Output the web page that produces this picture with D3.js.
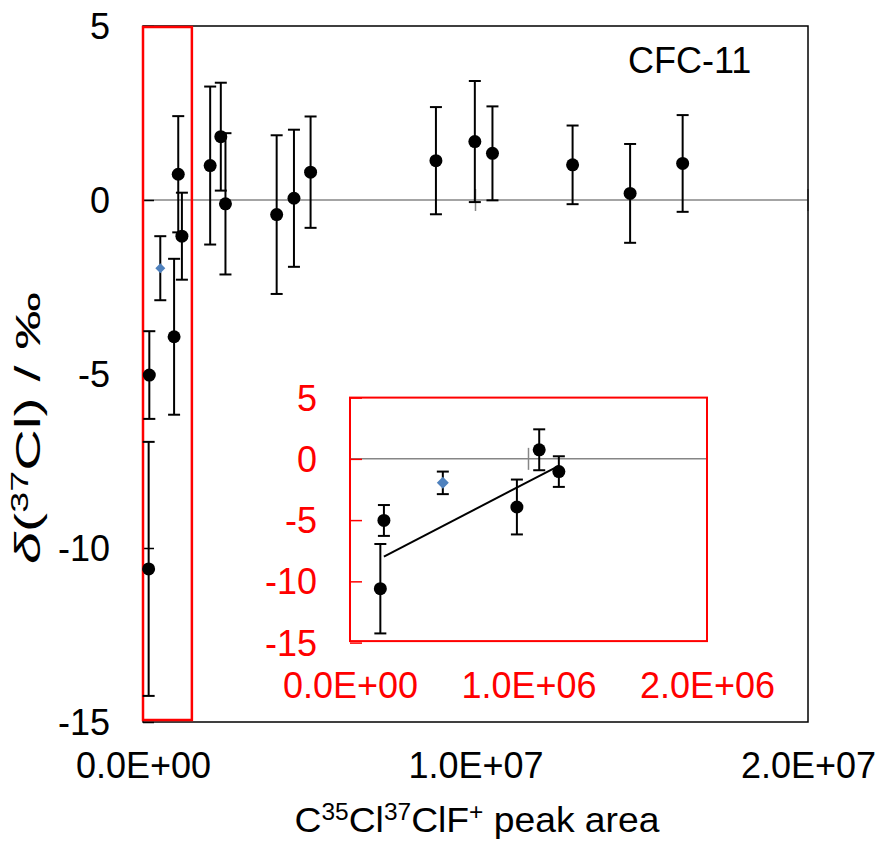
<!DOCTYPE html>
<html><head><meta charset="utf-8">
<script src="https://cdn.jsdelivr.net/npm/d3@7"></script>
<style>
body{margin:0;background:#fff;}
text{font-family:"Liberation Sans",Arial,sans-serif;}
</style></head>
<body><svg id="c" width="883" height="843"></svg>
<script>
// ---- data ----
const peakArea = [1.70e5, 1.90e5, 9.35e5, 1.06e6, 1.17e6, 2.02e6, 2.34e6, 2.48e6, 4.02e6, 4.54e6, 5.04e6, 8.81e6, 9.98e6, 1.051e7, 1.292e7, 1.465e7, 1.623e7];
const delta37 = [-10.60, -5.03, -3.93, 0.74, -1.04, 0.99, 1.82, -0.11, -0.42, 0.05, 0.80, 1.13, 1.68, 1.34, 1.01, 0.19, 1.05];
const deltaErr = [3.65, 1.26, 2.24, 1.67, 1.25, 2.27, 1.55, 2.03, 2.28, 1.97, 1.60, 1.54, 1.74, 1.35, 1.13, 1.42, 1.39];
const refArea = [5.2e5];
const refDelta = [-1.96];
const refErr = [0.92];
const trendX = [1.90e5, 1.17e6];
const trendY = [-7.98, -0.57];
const highlightX = [0, 1.47e6];
const mainXTicks = [0, 1e7, 2e7];
const mainYTicks = [-15, -10, -5, 0, 5];
const insetXTicks = [0, 1e6, 2e6];
const insetYTicks = [-15, -10, -5, 0, 5];
const label = "CFC-11";

const pts = peakArea.map((x,i)=>({x, y:delta37[i], e:deltaErr[i]}));
const refPts = refArea.map((x,i)=>({x, y:refDelta[i], e:refErr[i]}));

function sci(v){
  const s = d3.format(".1e")(v).replace("−","-");
  const [m, ex] = s.split("e");
  const sign = ex[0]==="-"?"-":"+";
  const n = ex.replace(/[+\-−]/,"");
  return m + "E" + sign + (n.length<2?"0"+n:n);
}
const intFmt = v => String(v); // plain hyphen-minus

const svg = d3.select("#c");
const FS = 36;
const FF = "Liberation Sans, Arial, sans-serif";

// ---- main plot ----
const M = {l:143, r:808, t:26, b:722};
const x = d3.scaleLinear().domain([0,2e7]).range([M.l, M.r]);
const y = d3.scaleLinear().domain([-15,5]).range([M.b, M.t]);

const main = svg.append("g");

main.append("line").attr("x1",x(0)).attr("x2",x(2e7)).attr("y1",y(0)).attr("y2",y(0))
  .attr("stroke","#868686").attr("stroke-width",1.5);
main.selectAll(".zt").data(mainXTicks.slice(1)).join("line")
  .attr("x1",d=>x(d)).attr("x2",d=>x(d)).attr("y1",y(0)-11).attr("y2",y(0)+11)
  .attr("stroke","#868686").attr("stroke-width",1.5);

const ya = main.append("g").attr("transform",`translate(${M.l},0)`)
  .call(d3.axisLeft(y).tickValues(mainYTicks).tickSize(-11).tickPadding(33).tickFormat(intFmt));
ya.select(".domain").remove();
ya.selectAll("line").attr("stroke","#000").attr("stroke-width",1.5);
ya.selectAll("text").attr("font-size",FS).attr("fill","#000").attr("font-family",FF).attr("dy","0.35em");

const xa = main.append("g").attr("transform",`translate(0,${M.b})`)
  .call(d3.axisBottom(x).tickValues(mainXTicks).tickSize(0).tickPadding(30).tickFormat(sci));
xa.select(".domain").remove();
xa.selectAll("text").attr("font-size",FS).attr("fill","#000").attr("font-family",FF);

main.append("rect").attr("x",M.l).attr("y",M.t).attr("width",M.r-M.l).attr("height",M.b-M.t)
  .attr("fill","none").attr("stroke","#000").attr("stroke-width",1.5);

main.append("rect").attr("x",x(highlightX[0])).attr("y",M.t+1)
  .attr("width",x(highlightX[1])-x(highlightX[0])).attr("height",M.b-M.t-3)
  .attr("fill","none").attr("stroke","#ff0000").attr("stroke-width",2.5);

function errBars(g, data, xs, ys, cap, sw){
  const gg = g.append("g").attr("stroke","#000").attr("stroke-width",sw);
  data.forEach(d=>{
    gg.append("line").attr("x1",xs(d.x)).attr("x2",xs(d.x)).attr("y1",ys(d.y+d.e)).attr("y2",ys(d.y-d.e));
    gg.append("line").attr("x1",xs(d.x)-cap).attr("x2",xs(d.x)+cap).attr("y1",ys(d.y+d.e)).attr("y2",ys(d.y+d.e));
    gg.append("line").attr("x1",xs(d.x)-cap).attr("x2",xs(d.x)+cap).attr("y1",ys(d.y-d.e)).attr("y2",ys(d.y-d.e));
  });
}
const diamond = s => `M0,${-s}L${s},0L0,${s}L${-s},0Z`;

errBars(main, refPts, x, y, 6, 2);
errBars(main, pts, x, y, 6, 2);
main.selectAll(".ref").data(refPts).join("path").attr("d",diamond(5))
  .attr("transform",d=>`translate(${x(d.x)},${y(d.y)})`).attr("fill","#4f81bd");
main.selectAll(".pt").data(pts).join("circle").attr("cx",d=>x(d.x)).attr("cy",d=>y(d.y)).attr("r",6.5).attr("fill","#000");

main.append("text").attr("x",628).attr("y",73).attr("font-size",FS).attr("fill","#000").text(label);

// axis titles
const yt = svg.append("text").attr("text-anchor","middle").attr("font-size",35).attr("fill","#000");
yt.append("tspan").attr("font-style","italic").text("δ");
yt.append("tspan").text("(");
yt.append("tspan").attr("font-size",23).attr("dy",-12).text("37");
yt.append("tspan").attr("dy",12).text("Cl) / ‰");
{
  const len = yt.node().getComputedTextLength();
  const sx = 272/len;
  yt.attr("transform",`translate(40,428) rotate(-90) scale(${sx},1)`);
}

const xt = svg.append("text").attr("text-anchor","middle").attr("font-size",35).attr("fill","#000");
xt.append("tspan").text("C");
xt.append("tspan").attr("font-size",23).attr("dy",-12).text("35");
xt.append("tspan").attr("dy",12).text("Cl");
xt.append("tspan").attr("font-size",23).attr("dy",-12).text("37");
xt.append("tspan").attr("dy",12).text("ClF");
xt.append("tspan").attr("font-size",23).attr("dy",-12).text("+");
xt.append("tspan").attr("dy",12).text(" peak area");
{
  const len = xt.node().getComputedTextLength();
  const sx = 365/len;
  xt.attr("transform",`translate(477,832) scale(${sx},1)`);
}

// ---- inset ----
const I = {l:350, r:707, t:397.6, b:642.6};
const xi = d3.scaleLinear().domain([0,2e6]).range([I.l, I.r]);
const yi = d3.scaleLinear().domain([-15,5]).range([I.b, I.t]);
const ins = svg.append("g");
ins.append("rect").attr("x",I.l).attr("y",I.t).attr("width",I.r-I.l).attr("height",I.b-I.t-1.5).attr("fill","#fff");
ins.append("line").attr("x1",xi(0)).attr("x2",xi(2e6)).attr("y1",yi(0)).attr("y2",yi(0))
  .attr("stroke","#868686").attr("stroke-width",1.5);
ins.selectAll(".zt").data(insetXTicks.slice(1)).join("line")
  .attr("x1",d=>xi(d)).attr("x2",d=>xi(d)).attr("y1",yi(0)-11).attr("y2",yi(0)+11)
  .attr("stroke","#868686").attr("stroke-width",1.5);

const yia = ins.append("g").attr("transform",`translate(${I.l},0)`)
  .call(d3.axisLeft(yi).tickValues(insetYTicks).tickSize(-12).tickPadding(33).tickFormat(intFmt));
yia.select(".domain").remove();
yia.selectAll("line").attr("stroke","#ff0000").attr("stroke-width",1.5);
yia.selectAll("text").attr("font-size",FS).attr("fill","#ff0000").attr("font-family",FF).attr("dy","0.35em");
const xia = ins.append("g").attr("transform",`translate(0,${I.b})`)
  .call(d3.axisBottom(xi).tickValues(insetXTicks).tickSize(0).tickPadding(30).tickFormat(sci));
xia.select(".domain").remove();
xia.selectAll("text").attr("font-size",FS).attr("fill","#ff0000").attr("font-family",FF);

const ip = pts.filter(d=>d.x<=2e6);
errBars(ins, refPts, xi, yi, 6, 2);
errBars(ins, ip, xi, yi, 6, 2);
ins.append("line").attr("x1",xi(trendX[0])).attr("y1",yi(trendY[0])).attr("x2",xi(trendX[1])).attr("y2",yi(trendY[1]))
  .attr("stroke","#000").attr("stroke-width",2);
ins.selectAll(".ref").data(refPts).join("path").attr("d",diamond(6))
  .attr("transform",d=>`translate(${xi(d.x)},${yi(d.y)})`).attr("fill","#4f81bd");
ins.selectAll(".pt").data(ip).join("circle").attr("cx",d=>xi(d.x)).attr("cy",d=>yi(d.y)).attr("r",6.5).attr("fill","#000");
ins.append("rect").attr("x",I.l).attr("y",I.t).attr("width",I.r-I.l).attr("height",I.b-I.t-1.5)
  .attr("fill","none").attr("stroke","#ff0000").attr("stroke-width",2);
</script></body></html>
